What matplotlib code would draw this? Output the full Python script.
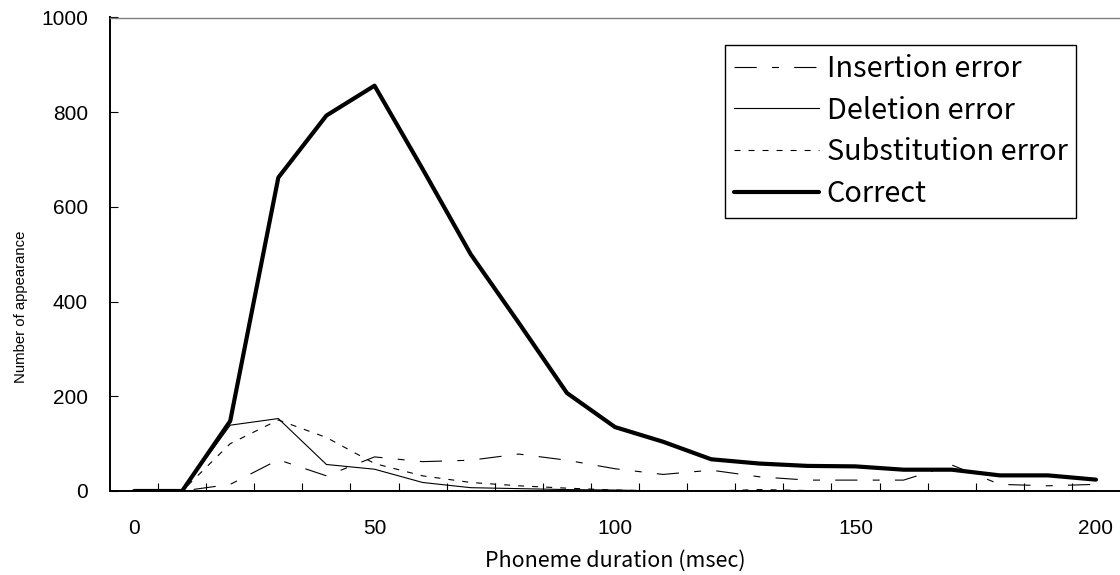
import numpy as np
import matplotlib.pyplot as plt

# phoneme duration categories (msec)
duration = list(range(0, 201, 10))

insertion = [0, 0, 14, 66, 32, 72, 62, 65, 78, 65, 47, 35, 44, 30, 23, 23, 23, 55, 14, 11, 14]
deletion = [0, 0, 139, 153, 56, 46, 18, 7, 5, 3, 2, 0, 0, 0, 0, 0, 0, 0, 0, 0, 0]
substitution = [0, 0, 100, 150, 113, 58, 32, 18, 11, 6, 2, 0, 0, 3, 1, 0, 0, 0, 0, 0, 0]
correct = [0, 0, 148, 662, 793, 856, 680, 500, 355, 207, 135, 104, 67, 58, 53, 52, 45, 45, 33, 33, 24]

labels = ["Insertion error", "Deletion error", "Substitution error", "Correct"]

plt.rcParams['lines.scale_dashes'] = False
jp_font = ['Noto Sans CJK JP', 'DejaVu Sans']
num_font = ['Liberation Sans', 'DejaVu Sans']

W, H = 1120, 575
fig = plt.figure(figsize=(W / 100, H / 100), dpi=100)
ax = fig.add_axes([110 / W, 1 - 491 / H, 1010 / W, (491 - 17.5) / H])

ax.plot(duration, insertion, color='black', lw=0.8, linestyle=(0, (16, 11, 5, 11)), label=labels[0])
ax.plot(duration, deletion, color='black', lw=0.8, linestyle='-', label=labels[1])
ax.plot(duration, substitution, color='black', lw=0.8, linestyle=(0, (4.3, 5.8)), label=labels[2])
ax.plot(duration, correct, color='black', lw=3.0, linestyle='-', label=labels[3],
        solid_capstyle='round', solid_joinstyle='round')

ax.set_xlim(-5, 205)
ax.set_ylim(0, 1000)

# x: labels every 50, tick marks between categories
ax.set_xticks(range(0, 201, 50))
ax.set_xticks(np.arange(5, 200, 10), minor=True)
ax.tick_params(axis='x', which='major', length=0, pad=20)
ax.tick_params(axis='x', which='minor', direction='in', length=6, width=0.8)
ax.set_yticks(range(0, 1001, 200))
ax.tick_params(axis='y', which='major', direction='in', length=6, width=0.8, pad=16)
for lbl in ax.get_xticklabels() + ax.get_yticklabels():
    lbl.set_family(num_font)
    lbl.set_fontsize(15)

for side in ['left', 'bottom']:
    ax.spines[side].set_linewidth(1.4)
    ax.spines[side].set_color('black')
ax.spines['top'].set_color('#808080')
ax.spines['top'].set_linewidth(1.0)
ax.spines['right'].set_visible(False)

ax.set_xlabel("Phoneme duration (msec)", family=jp_font, fontsize=15.5)
ax.xaxis.set_label_coords(0.5, -0.125)
ax.set_ylabel("Number of appearance", family=num_font, fontsize=10.7)
ax.yaxis.set_label_coords(-0.081, 0.389)

leg = ax.legend(loc='upper left', bbox_to_anchor=(725 / W, 1 - 45 / H),
                bbox_transform=fig.transFigure, prop={'family': jp_font, 'size': 20.8},
                handlelength=2.94, handletextpad=0.28, labelspacing=0.41,
                borderpad=0.3, borderaxespad=0, fancybox=False,
                frameon=True, framealpha=1, edgecolor='black')
leg.get_frame().set_linewidth(1.0)

fig.savefig('out.png', dpi=100)
